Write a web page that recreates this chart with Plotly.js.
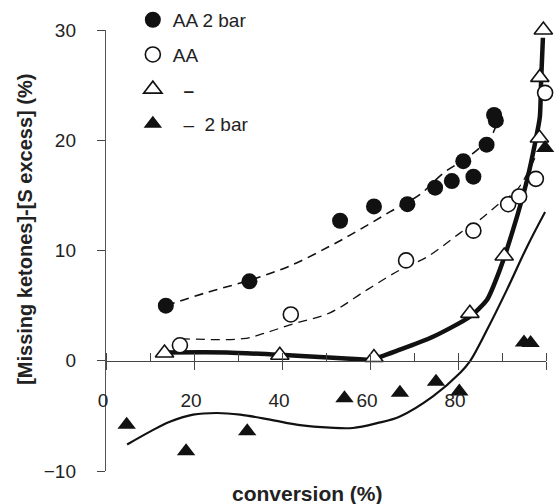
<!DOCTYPE html>
<html>
<head>
<meta charset="utf-8">
<script src="https://cdn.plot.ly/plotly-3.0.1.min.js"></script>
<style>html,body{margin:0;padding:0;background:#fff;}#chart{width:555px;height:504px;}</style>
</head>
<body>
<div id="chart"></div>
<script>
// ---- data ----
const seriesNames = ["AA 2 bar", "AA", "\u00a0\u00a0<b>\u2013</b>", "\u00a0\u00a0\u2013\u00a0\u00a02 bar"];

const aa2barX = [13.6, 32.6, 53.2, 60.9, 68.5, 74.8, 78.6, 81.2, 83.5, 86.5, 88.2, 88.6];
const aa2barY = [5.0, 7.2, 12.7, 14.0, 14.2, 15.7, 16.3, 18.1, 16.7, 19.6, 22.3, 21.8];

const aaX = [16.8, 42.0, 68.2, 83.5, 91.4, 93.9, 97.7, 99.8];
const aaY = [1.4, 4.2, 9.1, 11.8, 14.2, 14.9, 16.5, 24.3];

const triOpenX = [13.3, 39.5, 60.9, 82.7, 90.5, 98.5, 98.6, 99.4];
const triOpenY = [0.7, 0.5, 0.3, 4.3, 9.5, 20.2, 25.7, 30.0];

const triFillX = [4.7, 18.2, 32.1, 54.2, 66.8, 75.0, 80.3, 95.0, 96.5, 99.8];
const triFillY = [-5.8, -8.2, -6.4, -3.4, -2.9, -1.9, -2.8, 1.65, 1.6, 19.3];

// fitted curves
const fitAA2barX = [13.6, 23.0, 32.6, 41.8, 50.9, 57.7, 64.5, 71.4, 76.6, 83.4, 88.0, 88.9];
const fitAA2barY = [5.0, 6.2, 7.3, 8.6, 10.4, 11.9, 13.5, 15.1, 17.0, 18.8, 20.7, 22.0];

const fitAAX = [17.0, 31.1, 35.7, 41.8, 50.9, 59.3, 66.8, 73.0, 80.5, 85.0, 89.5, 93.4, 97.5];
const fitAAY = [2.0, 2.0, 2.45, 3.26, 4.35, 6.43, 8.24, 9.42, 11.6, 12.8, 14.3, 15.5, 18.4];

const fitTriOpenX = [12.3, 27.5, 39.5, 51.6, 57.7, 60.2, 66.8, 74.3, 82.7, 86.6, 89.5, 92.5, 95.7, 97.5, 98.6, 98.9, 99.3];
const fitTriOpenY = [0.75, 0.75, 0.54, 0.27, 0.14, 0.09, 1.0, 2.17, 3.99, 5.53, 8.24, 11.87, 16.4, 19.7, 22.1, 25.5, 29.3];

const fitTriFillX = [4.8, 10.0, 14.5, 19.8, 25.2, 30.5, 37.3, 44.1, 50.9, 56.1, 61.6, 66.8, 74.3, 80.5, 82.7, 86.6, 91.1, 95.7, 99.8];
const fitTriFillY = [-7.6, -6.43, -5.53, -4.89, -4.74, -4.89, -5.34, -5.84, -6.07, -6.10, -5.66, -5.05, -3.23, -1.09, -0.06, 2.81, 6.43, 10.35, 13.5];

const xTickVals = [0, 20, 40, 60, 80, 100];
const yTickVals = [-10, 0, 10, 20, 30];
const xTitle = "conversion (%)";
const yTitle = "[Missing ketones]-[S excess] (%)";

// ---- drawing ----
const ink = "#111";
const font = "Liberation Sans, Arial, Helvetica, sans-serif";

const traces = [
  {x: fitAA2barX, y: fitAA2barY, mode: "lines", line: {color: ink, width: 1.6, dash: "9px,6px", shape: "spline"}, showlegend: false, hoverinfo: "skip"},
  {x: fitAAX, y: fitAAY, mode: "lines", line: {color: ink, width: 1.3, dash: "9px,6px", shape: "spline"}, showlegend: false, hoverinfo: "skip"},
  {x: fitTriOpenX, y: fitTriOpenY, mode: "lines", line: {color: ink, width: 4.5, shape: "spline", smoothing: 0.6}, showlegend: false, hoverinfo: "skip"},
  {x: fitTriFillX, y: fitTriFillY, mode: "lines", line: {color: ink, width: 2.2, shape: "spline"}, showlegend: false, hoverinfo: "skip"},
  {x: aa2barX, y: aa2barY, name: seriesNames[0], legendgroup: "a", mode: "markers", cliponaxis: false,
   marker: {symbol: "circle", size: 16, color: ink, line: {width: 0}}},
  {x: aaX, y: aaY, name: seriesNames[1], legendgroup: "b", mode: "markers", cliponaxis: false,
   marker: {symbol: "circle", size: 15, color: "#fff", line: {width: 1.6, color: ink}}},
  {x: triOpenX, y: triOpenY, name: seriesNames[2], legendgroup: "c", mode: "markers", cliponaxis: false,
   marker: {symbol: "triangle-up", size: 16, color: "#fff", line: {width: 1.6, color: ink}}},
  {x: triFillX, y: triFillY, name: seriesNames[3], legendgroup: "d", mode: "markers", cliponaxis: false,
   marker: {symbol: "triangle-up", size: 16, color: ink, line: {width: 0}}}
];

const layout = {
  width: 555, height: 504,
  margin: {l: 106, r: 9, t: 30, b: 32.5, autoexpand: false},
  paper_bgcolor: "#fff", plot_bgcolor: "#fff",
  font: {family: font, size: 19, color: "#222"},
  showlegend: true,
  legend: {x: 0.061, y: 1.066, xanchor: "left", yanchor: "top", bgcolor: "rgba(0,0,0,0)",
           font: {family: font, size: 19, color: "#222"}, tracegroupgap: 7, itemwidth: 30},
  xaxis: {range: [0, 100], anchor: "free", position: 0.25, tickvals: xTickVals,
          ticks: "outside", ticklen: 8, tickwidth: 1, tickcolor: "#444",
          showline: true, linecolor: "#444", linewidth: 1, showgrid: false, zeroline: false,
          minor: {dtick: 10, ticks: "inside", ticklen: 8, tickcolor: "#444", showgrid: false},
          ticklabelstandoff: 14, ticklabelshift: -3, tickfont: {size: 19, color: "#222"}},
  yaxis: {range: [-10, 30], tickvals: yTickVals,
          ticks: "outside", ticklen: 8, tickwidth: 1, tickcolor: "#444",
          showline: true, linecolor: "#555", linewidth: 1.2, showgrid: false, zeroline: false,
          ticklabelstandoff: 17, tickfont: {size: 19, color: "#222"}},
  annotations: [
    {text: "<b>" + xTitle + "</b>", xref: "paper", yref: "paper", x: 0.459, y: -0.051,
     xanchor: "center", yanchor: "middle", showarrow: false, font: {size: 21, color: "#222"}},
    {text: "<b>" + yTitle + "</b>", xref: "paper", yref: "paper", x: -0.184, y: 0.547,
     xanchor: "center", yanchor: "middle", textangle: -90, showarrow: false, font: {size: 20, color: "#222"}}
  ]
};

Plotly.newPlot("chart", traces, layout, {displayModeBar: false, staticPlot: true});
</script>
</body>
</html>
